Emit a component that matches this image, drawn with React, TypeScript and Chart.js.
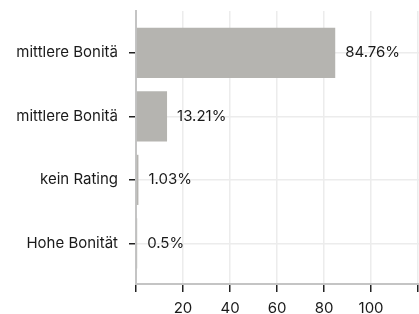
import React, { useEffect, useRef } from "react";
import { Chart, registerables } from "chart.js";

Chart.register(...registerables);

const categories = ["mittlere Bonitä", "mittlere Bonitä", "kein Rating", "Hohe Bonität"];
const values = [84.76, 13.21, 1.03, 0.5];
const valueLabels = ["84.76%", "13.21%", "1.03%", "0.5%"];
const xTicks = [0, 20, 40, 60, 80, 100, 120];
const xTickLabels = ["", "20", "40", "60", "80", "100", ""];

const FONT = "Inter, 'Noto Sans', sans-serif";

const valueLabelPlugin = {
  id: "valueLabels",
  afterDatasetsDraw(chart: any) {
    const ctx = chart.ctx;
    const meta = chart.getDatasetMeta(0);
    ctx.save();
    ctx.font = `15px ${FONT}`;
    ctx.fillStyle = "#1a1a1a";
    ctx.textAlign = "left";
    ctx.textBaseline = "middle";
    meta.data.forEach((el: any, i: number) => {
      ctx.fillText(valueLabels[i], el.x + 10, el.y);
    });
    ctx.restore();
  },
};

export default function App() {
  const ref = useRef<HTMLCanvasElement>(null);
  useEffect(() => {
    document.body.style.margin = "0";
    const chart = new Chart(ref.current!, {
      type: "bar",
      data: {
        datasets: [
          {
            data: values.map((v, i) => ({ x: v, y: i })),
            backgroundColor: "#b5b4b0",
            borderWidth: 0,
            barPercentage: 0.79,
            categoryPercentage: 1,
          },
        ],
      },
      options: {
        indexAxis: "y",
        animation: false,
        responsive: false,
        layout: { padding: { top: 11, left: 13, right: 0, bottom: 0 } },
        plugins: { legend: { display: false }, tooltip: { enabled: false } },
        scales: {
          x: {
            type: "linear",
            min: 0,
            max: 120.4,
            afterBuildTicks: (s: any) => {
              s.ticks = xTicks.map((v) => ({ value: v }));
            },
            afterFit: (s: any) => {
              s.paddingLeft = 0;
              s.paddingRight = 0;
              s.height = 30;
            },
            ticks: {
              callback: (_v: any, i: number) => xTickLabels[i],
              font: { family: FONT, size: 15 },
              color: "#1a1a1a",
              padding: 7,
              autoSkip: false,
              maxRotation: 0,
            },
            grid: { color: "#ececec", tickColor: "#222", tickLength: 8, lineWidth: 1.5 },
            border: { color: "#c4c4c4", width: 2 },
          },
          y: {
            type: "linear",
            reverse: true,
            offset: false,
            min: -0.66,
            max: 3.64,
            afterBuildTicks: (s: any) => {
              s.ticks = categories.map((_c, i) => ({ value: i }));
            },
            afterFit: (s: any) => {
              s.paddingTop = 0;
              s.paddingBottom = 0;
              s.width = 123;
            },
            ticks: {
              callback: (_v: any, i: number) => categories[i],
              font: { family: FONT, size: 15 },
              color: "#1a1a1a",
              padding: 11,
              autoSkip: false,
            },
            grid: { offset: false, color: "#ececec", tickColor: "#222", tickLength: 7, lineWidth: 1.5 },
            border: { color: "#c4c4c4", width: 2 },
          },
        },
      },
      plugins: [valueLabelPlugin],
    });
    return () => chart.destroy();
  }, []);
  return (
    <div style={{ width: 419, height: 314 }}>
      <canvas ref={ref} width={419} height={314} style={{ display: "block" }} />
    </div>
  );
}
